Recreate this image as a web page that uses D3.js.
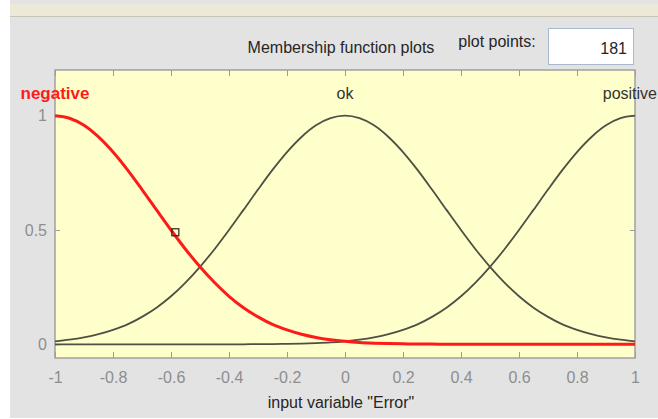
<!DOCTYPE html>
<html>
<head>
<meta charset="utf-8">
<script src="https://cdn.jsdelivr.net/npm/d3@7/dist/d3.min.js"></script>
<style>
  html, body { margin: 0; padding: 0; background: #ffffff; }
  svg { display: block; }
  text { font-family: "Liberation Sans", Arial, sans-serif; }
</style>
</head>
<body>
<svg id="chart" width="658" height="419"></svg>
<script>
// ---- data ----
const xValues = [-1, -0.95, -0.9, -0.85, -0.8, -0.75, -0.7, -0.65, -0.6, -0.55, -0.5,
  -0.45, -0.4, -0.35, -0.3, -0.25, -0.2, -0.15, -0.1, -0.05, 0,
  0.05, 0.1, 0.15, 0.2, 0.25, 0.3, 0.35, 0.4, 0.45, 0.5,
  0.55, 0.6, 0.65, 0.7, 0.75, 0.8, 0.85, 0.9, 0.95, 1];
const negativeValues = [1, 0.989, 0.958, 0.907, 0.841, 0.763, 0.677, 0.588, 0.500, 0.416, 0.339,
  0.270, 0.210, 0.160, 0.120, 0.087, 0.063, 0.044, 0.030, 0.020, 0.013,
  0.008, 0.005, 0.003, 0.002, 0.001, 0.001, 0, 0, 0, 0,
  0, 0, 0, 0, 0, 0, 0, 0, 0, 0];
const okValues = [0.013, 0.020, 0.030, 0.044, 0.063, 0.087, 0.120, 0.160, 0.210, 0.270, 0.339,
  0.416, 0.500, 0.588, 0.677, 0.763, 0.841, 0.907, 0.958, 0.989, 1,
  0.989, 0.958, 0.907, 0.841, 0.763, 0.677, 0.588, 0.500, 0.416, 0.339,
  0.270, 0.210, 0.160, 0.120, 0.087, 0.063, 0.044, 0.030, 0.020, 0.013];
const positiveValues = [0, 0, 0, 0, 0, 0, 0, 0, 0, 0,
  0, 0, 0, 0, 0.001, 0.001, 0.002, 0.003, 0.005, 0.008,
  0.013, 0.020, 0.030, 0.044, 0.063, 0.087, 0.120, 0.160, 0.210, 0.270,
  0.339, 0.416, 0.500, 0.588, 0.677, 0.763, 0.841, 0.907, 0.958, 0.989, 1];
const mfNames = ["negative", "ok", "positive"];
const mfCenters = [-1, 0, 1];
const xTicks = [-1, -0.8, -0.6, -0.4, -0.2, 0, 0.2, 0.4, 0.6, 0.8, 1];
const xTickLabels = ["-1", "-0.8", "-0.6", "-0.4", "-0.2", "0", "0.2", "0.4", "0.6", "0.8", "1"];
const yTicks = [0, 0.5, 1];
const yTickLabels = ["0", "0.5", "1"];
const selectedPoint = { x: -0.585, y: 0.49 };
const plotPoints = "181";

// ---- drawing ----
(function draw() {
  const svg = d3.select("#chart");
  const W = 658, H = 419;

  // window background
  svg.append("rect").attr("x", 0).attr("y", 0).attr("width", W).attr("height", H).attr("fill", "#ffffff");
  svg.append("rect").attr("x", 10).attr("y", 0).attr("width", W - 10).attr("height", 418).attr("fill", "#e3e3e3");
  svg.append("rect").attr("x", 10).attr("y", 4).attr("width", W - 10).attr("height", 12).attr("fill", "#ece9d8");
  svg.append("line").attr("x1", 10).attr("x2", W).attr("y1", 16.5).attr("y2", 16.5)
    .attr("stroke", "#c8c5b5").attr("stroke-width", 1);

  // header texts
  svg.append("text").attr("x", 341).attr("y", 53).attr("text-anchor", "middle")
    .attr("font-size", 16).attr("fill", "#262626").text("Membership function plots");
  svg.append("text").attr("x", 497).attr("y", 47).attr("text-anchor", "middle")
    .attr("font-size", 16).attr("fill", "#262626").text("plot points:");
  svg.append("rect").attr("x", 548.5).attr("y", 28.5).attr("width", 85).attr("height", 36)
    .attr("fill", "#ffffff").attr("stroke", "#a9bad0").attr("stroke-width", 1);
  svg.append("text").attr("x", 627).attr("y", 54).attr("text-anchor", "end")
    .attr("font-size", 16).attr("fill", "#262626").text(plotPoints);

  const pLeft = 55, pRight = 635, pTop = 70, pBottom = 358;
  const x = d3.scaleLinear().domain([-1, 1]).range([pLeft, pRight]);
  const y = d3.scaleLinear().domain([-0.06, 1.2]).range([pBottom, pTop]);

  // plot area
  svg.append("rect").attr("x", pLeft).attr("y", pTop).attr("width", pRight - pLeft).attr("height", pBottom - pTop)
    .attr("fill", "#ffffcc");

  const tickColor = "#9a9a9a";
  function styleAxis(g) {
    g.select(".domain").remove();
    g.selectAll(".tick line").attr("stroke", tickColor).attr("stroke-width", 1);
    g.selectAll(".tick text").attr("fill", "#8e8e8e").attr("font-size", 16)
      .attr("font-family", "'Liberation Sans', Arial, sans-serif");
  }
  svg.append("g").attr("transform", `translate(0,${pBottom})`)
    .call(d3.axisBottom(x).tickValues(xTicks).tickFormat((d, i) => xTickLabels[i])
      .tickSizeInner(-6).tickSizeOuter(0).tickPadding(14))
    .call(styleAxis);
  svg.append("g").attr("transform", `translate(0,${pTop})`)
    .call(d3.axisTop(x).tickValues(xTicks).tickFormat("").tickSizeInner(-6).tickSizeOuter(0))
    .call(styleAxis);
  svg.append("g").attr("transform", `translate(${pLeft},0)`)
    .call(d3.axisLeft(y).tickValues(yTicks).tickFormat((d, i) => yTickLabels[i])
      .tickSizeInner(-5).tickSizeOuter(0).tickPadding(8))
    .call(styleAxis);
  svg.append("g").attr("transform", `translate(${pRight},0)`)
    .call(d3.axisRight(y).tickValues(yTicks).tickFormat("").tickSizeInner(-5).tickSizeOuter(0))
    .call(styleAxis);

  // box
  svg.append("rect").attr("x", pLeft).attr("y", pTop).attr("width", pRight - pLeft).attr("height", pBottom - pTop)
    .attr("fill", "none").attr("stroke", "#a0a0a0").attr("stroke-width", 1.5);

  // curves
  const line = d3.line().x(d => x(d[0])).y(d => y(d[1])).curve(d3.curveMonotoneX);
  const series = [
    { name: "ok", values: okValues, color: "#4f4f44", width: 1.8 },
    { name: "positive", values: positiveValues, color: "#4f4f44", width: 1.8 },
    { name: "negative", values: negativeValues, color: "#ff1a1a", width: 3 }
  ];
  const plotG = svg.append("g");
  series.forEach(s => {
    plotG.append("path")
      .datum(xValues.map((xv, i) => [xv, s.values[i]]))
      .attr("fill", "none").attr("stroke", s.color).attr("stroke-width", s.width)
      .attr("stroke-linejoin", "round").attr("d", line);
  });

  // selected point marker
  svg.append("rect")
    .attr("x", x(selectedPoint.x) - 3.5).attr("y", y(selectedPoint.y) - 3.5)
    .attr("width", 7).attr("height", 7)
    .attr("fill", "none").attr("stroke", "#222222").attr("stroke-width", 1.2);

  // MF labels
  mfNames.forEach((name, i) => {
    const sel = name === "negative";
    const t = svg.append("text").attr("x", x(mfCenters[i])).attr("y", 99).attr("text-anchor", "middle")
      .attr("font-size", sel ? 17 : 16).attr("font-weight", sel ? "bold" : "normal")
      .attr("fill", sel ? "#ff1a1a" : "#333333").text(name);
    // keep labels inside the window
    const w = t.node().getComputedTextLength();
    const cx = x(mfCenters[i]);
    if (cx + w / 2 > W - 1) t.attr("text-anchor", "end").attr("x", W - 1);
    if (cx - w / 2 < 1) t.attr("text-anchor", "start").attr("x", 1);
  });

  // x axis title
  svg.append("text").attr("x", 341).attr("y", 408).attr("text-anchor", "middle")
    .attr("font-size", 16).attr("fill", "#262626").text('input variable "Error"');
})();
</script>
</body>
</html>
